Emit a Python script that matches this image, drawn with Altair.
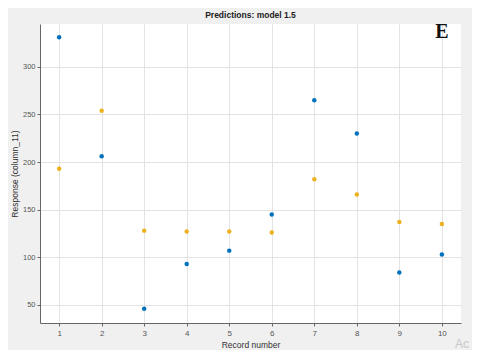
import altair as alt
import pandas as pd

records = [1, 2, 3, 4, 5, 6, 7, 8, 9, 10]
true_vals = [331, 206, 46, 93, 107, 145, 265, 230, 84, 103]
pred_vals = [193, 254, 128, 127, 127, 126, 182, 166, 137, 135]

df = pd.DataFrame({
    "rec": records * 2,
    "val": true_vals + pred_vals,
    "series": ["True"] * 10 + ["Predicted"] * 10,
})

x_scale = alt.Scale(domain=[0.55, 10.45], nice=False, zero=False)
y_scale = alt.Scale(domain=[31, 345], nice=False, zero=False)

points = alt.Chart(df).mark_circle(size=20, opacity=1).encode(
    x=alt.X("rec:Q", scale=x_scale, title="Record number",
            axis=alt.Axis(values=records, format="d", labelFontSize=8, titleFontSize=8.5,
                          labelColor="#555555", titleColor="#333333", labelPadding=3,
                          titlePadding=3, tickSize=3, tickColor="#666666",
                          domainColor="#666666", gridColor="#e3e3e3", titleFontWeight="normal")),
    y=alt.Y("val:Q", scale=y_scale, title="Response (column_11)",
            axis=alt.Axis(values=[50, 100, 150, 200, 250, 300], labelFontSize=7.5,
                          titleFontSize=8.5, labelColor="#555555", titleColor="#333333",
                          labelPadding=2, titlePadding=3, tickSize=3, tickColor="#666666",
                          domainColor="#666666", gridColor="#e3e3e3", titleFontWeight="normal")),
    color=alt.Color("series:N", scale=alt.Scale(domain=["True", "Predicted"],
                                                range=["#0072BD", "#EDB120"]), legend=None),
)

label_df = pd.DataFrame({"t": ["E"]})
e_text = alt.Chart(label_df).mark_text(font="Liberation Serif", fontSize=20, fontWeight="bold",
                                       color="#111111").encode(
    x=alt.value(402), y=alt.value(8), text="t:N")

wm_df = pd.DataFrame({"t": ["Ac"]})
wm = alt.Chart(wm_df).mark_text(fontSize=12, color="#c8c8c8", align="left").encode(
    x=alt.value(415), y=alt.value(320), text="t:N")

chart = alt.layer(points, e_text, wm).properties(
    width=421, height=299,
    title=alt.TitleParams("Predictions: model 1.5", fontSize=8.5, fontWeight="bold",
                          color="#222222", offset=3, font="Liberation Sans"),
    background="#f0f0f0",
    padding={"left": 32, "top": 16, "right": 11, "bottom": 27},
    autosize=alt.AutoSizeParams(type="none"),
).configure_view(fill="white", stroke=None).configure_axis(
    labelFont="Liberation Sans", titleFont="Liberation Sans"
)

chart.save("out.html", embed_options={"renderer": "svg", "actions": False})
